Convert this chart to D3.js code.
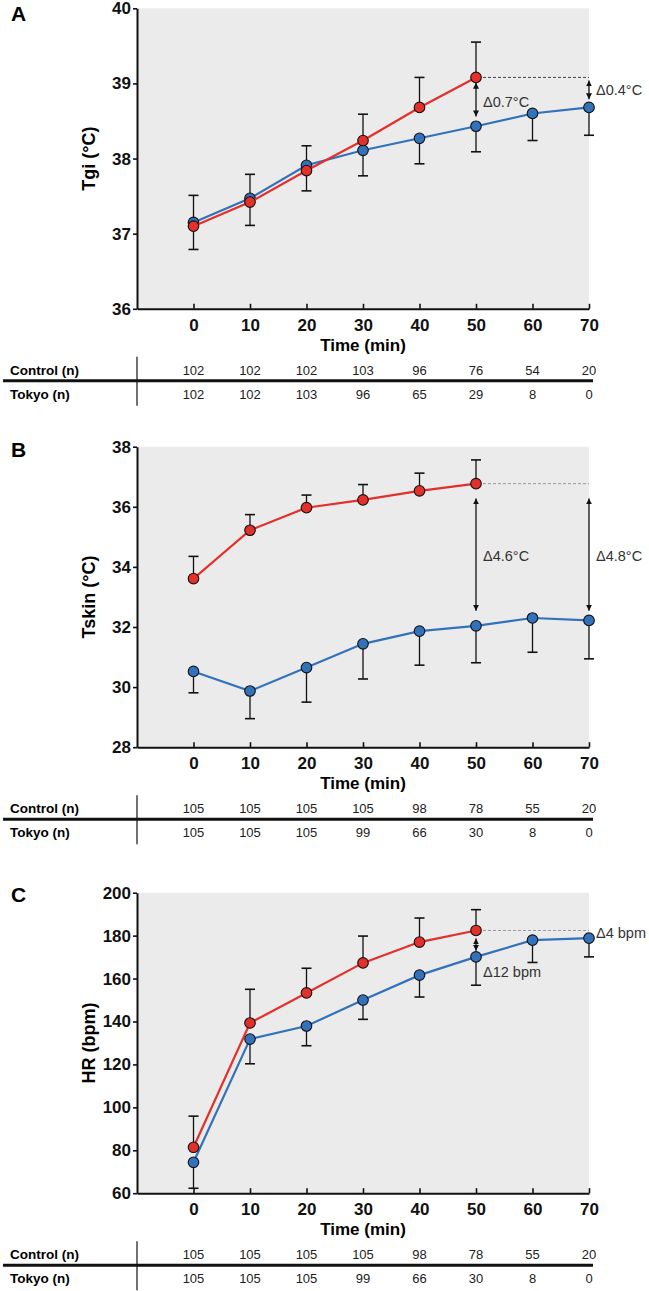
<!DOCTYPE html>
<html>
<head>
<meta charset="utf-8">
<script src="https://cdn.jsdelivr.net/npm/d3@7"></script>
<style>
  body { margin: 0; background: #fff; }
  svg text { font-family: "Liberation Sans", Arial, sans-serif; }
</style>
</head>
<body>
<div id="chart"></div>
<script>
// time points (min)
var times = [0, 10, 20, 30, 40, 50, 60, 70];

// Panel A - gastrointestinal temperature
var tgiControl = [37.15, 37.47, 37.91, 38.11, 38.27, 38.43, 38.60, 38.68];
var tgiControlSD = [0.36, 0.36, 0.34, 0.34, 0.34, 0.34, 0.36, 0.37];
var tgiTokyo = [37.10, 37.42, 37.84, 38.24, 38.68, 39.08];
var tgiTokyoSD = [0.41, 0.37, 0.33, 0.35, 0.40, 0.47];
var tgiControlN = [102, 102, 102, 103, 96, 76, 54, 20];
var tgiTokyoN = [102, 102, 103, 96, 65, 29, 8, 0];

// Panel B - skin temperature
var tskinControl = [30.52, 29.87, 30.65, 31.44, 31.86, 32.04, 32.30, 32.22];
var tskinControlSD = [0.71, 0.92, 1.15, 1.17, 1.13, 1.23, 1.14, 1.28];
var tskinTokyo = [33.61, 35.22, 35.97, 36.23, 36.53, 36.77];
var tskinTokyoSD = [0.74, 0.52, 0.42, 0.51, 0.59, 0.79];
var tskinControlN = [105, 105, 105, 105, 98, 78, 55, 20];
var tskinTokyoN = [105, 105, 105, 99, 66, 30, 8, 0];

// Panel C - heart rate
var hrControl = [74.4, 131.8, 137.9, 150.0, 161.6, 170.1, 177.9, 178.8];
var hrControlSD = [12.1, 11.5, 9.2, 9.0, 10.2, 13.2, 10.4, 8.7];
var hrTokyo = [81.4, 139.3, 153.3, 167.3, 177.0, 182.4];
var hrTokyoSD = [14.5, 15.7, 11.5, 12.5, 11.2, 9.7];
var hrControlN = [105, 105, 105, 105, 98, 78, 55, 20];
var hrTokyoN = [105, 105, 105, 99, 66, 30, 8, 0];

// difference annotations: [time, from, to]
var tgiArrows = [[50, 39.01, 38.56], [70, 39.04, 38.79]];
var tgiNotes = [[50, 38.69, "\u03940.7\u00b0C"], [70, 38.84, "\u03940.4\u00b0C"]];
var tskinArrows = [[50, 36.28, 32.54], [70, 36.28, 32.54]];
var tskinNotes = [[50, 34.21, "\u03944.6\u00b0C"], [70, 34.21, "\u03944.8\u00b0C"]];
var hrArrows = [[50, 178.7, 172.9]];
var hrNotes = [[50, 160.8, "\u039412 bpm"], [70, 178.7, "\u03944 bpm"]];

var panels = [
  { letter: "A", top: 8.3, label: "Tgi (\u00b0C)", domain: [36, 40], ticks: [36, 37, 38, 39, 40],
    ctrl: tgiControl, ctrlSD: tgiControlSD, tokyo: tgiTokyo, tokyoSD: tgiTokyoSD,
    ctrlN: tgiControlN, tokyoN: tgiTokyoN, arrows: tgiArrows, notes: tgiNotes, dash: "#444", letterDy: 12.7 },
  { letter: "B", top: 446.7, label: "Tskin (\u00b0C)", domain: [28, 38], ticks: [28, 30, 32, 34, 36, 38],
    ctrl: tskinControl, ctrlSD: tskinControlSD, tokyo: tskinTokyo, tokyoSD: tskinTokyoSD,
    ctrlN: tskinControlN, tokyoN: tskinTokyoN, arrows: tskinArrows, notes: tskinNotes, dash: "#999", letterDy: 10 },
  { letter: "C", top: 892.7, label: "HR (bpm)", domain: [60, 200], ticks: [60, 80, 100, 120, 140, 160, 180, 200],
    ctrl: hrControl, ctrlSD: hrControlSD, tokyo: hrTokyo, tokyoSD: hrTokyoSD,
    ctrlN: hrControlN, tokyoN: hrTokyoN, arrows: hrArrows, notes: hrNotes, dash: "#999", letterDy: 9 }
];

var svgWidth = 649;
var svgHeight = 1291;
var plotHeight = 300.5;
var red = "#e3302a";
var blue = "#3272bb";

var svg = d3.select("#chart")
  .append("svg")
  .attr("width", svgWidth)
  .attr("height", svgHeight);

// arrow head marker
svg.append("defs").append("marker")
  .attr("id", "head")
  .attr("viewBox", "0 0 10 10")
  .attr("refX", 10)
  .attr("refY", 5)
  .attr("markerWidth", 6)
  .attr("markerHeight", 6)
  .attr("markerUnits", "userSpaceOnUse")
  .attr("orient", "auto-start-reverse")
  .append("path")
  .attr("d", "M0,0 L10,5 L0,10 Z")
  .attr("fill", "#111");

var xScale = d3.scaleLinear().domain([-10, 70]).range([137, 589]);

panels.forEach(function(p) {
  var g = svg.append("g");
  var bottom = p.top + plotHeight;
  var yScale = d3.scaleLinear().domain(p.domain).range([bottom, p.top]);

  // grey plot background
  g.append("rect")
    .attr("x", xScale(-10))
    .attr("y", p.top)
    .attr("width", xScale(70) - xScale(-10))
    .attr("height", plotHeight)
    .attr("fill", "#ebebeb");

  // panel letter
  g.append("text")
    .attr("x", 11)
    .attr("y", p.top + p.letterDy)
    .attr("font-size", "21px")
    .attr("font-weight", "bold")
    .text(p.letter);

  // axes
  var leftAxis = d3.axisLeft(yScale).tickValues(p.ticks).tickFormat(d3.format("d"))
    .tickSize(4).tickSizeOuter(0).tickPadding(2);
  var bottomAxis = d3.axisBottom(xScale).tickValues(times).tickFormat(d3.format("d"))
    .tickSize(-5).tickSizeOuter(0).tickPadding(10);

  var yAxis = g.append("g")
    .attr("transform", `translate(${xScale(-10)},0)`)
    .call(leftAxis);
  var xAxis = g.append("g")
    .attr("transform", `translate(0,${bottom})`)
    .call(bottomAxis);

  [yAxis, xAxis].forEach(function(ax) {
    ax.select(".domain").attr("stroke", "#111").attr("stroke-width", 2);
    ax.selectAll(".tick line").attr("stroke", "#111").attr("stroke-width", 1.6);
    ax.selectAll("text")
      .attr("font-family", "'Liberation Sans', Arial, sans-serif")
      .attr("font-size", "17px")
      .attr("font-weight", "bold")
      .attr("fill", "#111");
  });

  // axis titles
  g.append("text")
    .attr("transform", `translate(95,${p.top + plotHeight / 2}) rotate(-90)`)
    .attr("text-anchor", "middle")
    .attr("font-size", "18px")
    .attr("font-weight", "bold")
    .text(p.label);

  g.append("text")
    .attr("x", (xScale(-10) + xScale(70)) / 2)
    .attr("y", bottom + 42)
    .attr("text-anchor", "middle")
    .attr("font-size", "17px")
    .attr("font-weight", "bold")
    .text("Time (min)");

  // dashed reference from last Tokyo point
  var lastT = times[p.tokyo.length - 1];
  var lastV = p.tokyo[p.tokyo.length - 1];
  g.append("line")
    .attr("x1", xScale(lastT) + 7)
    .attr("x2", xScale(70))
    .attr("y1", yScale(lastV))
    .attr("y2", yScale(lastV))
    .attr("stroke", p.dash)
    .attr("stroke-width", 1)
    .attr("stroke-dasharray", "3,2");

  // arrows
  p.arrows.forEach(function(a) {
    g.append("line")
      .attr("x1", xScale(a[0]))
      .attr("x2", xScale(a[0]))
      .attr("y1", yScale(a[1]))
      .attr("y2", yScale(a[2]))
      .attr("stroke", "#111")
      .attr("stroke-width", 1.3)
      .attr("marker-start", "url(#head)")
      .attr("marker-end", "url(#head)");
  });

  p.notes.forEach(function(n) {
    g.append("text")
      .attr("x", xScale(n[0]) + 7)
      .attr("y", yScale(n[1]))
      .attr("font-size", "14.5px")
      .attr("fill", "#333")
      .text(n[2]);
  });

  // series: control (blue) lower SD, tokyo (red) upper SD
  var series = [
    { vals: p.ctrl, sd: p.ctrlSD, sign: -1, color: blue },
    { vals: p.tokyo, sd: p.tokyoSD, sign: 1, color: red }
  ];

  series.forEach(function(s) {
    var pts = s.vals.map(function(v, i) { return { t: times[i], v: v, e: v + s.sign * s.sd[i] }; });

    var bars = g.append("g");
    pts.forEach(function(d) {
      bars.append("line")
        .attr("x1", xScale(d.t)).attr("x2", xScale(d.t))
        .attr("y1", yScale(d.v)).attr("y2", yScale(d.e))
        .attr("stroke", "#111").attr("stroke-width", 1.3);
      bars.append("line")
        .attr("x1", xScale(d.t) - 5).attr("x2", xScale(d.t) + 5)
        .attr("y1", yScale(d.e)).attr("y2", yScale(d.e))
        .attr("stroke", "#111").attr("stroke-width", 1.6);
    });
  });

  series.forEach(function(s) {
    var pts = s.vals.map(function(v, i) { return { t: times[i], v: v }; });
    var line = d3.line().x(d => xScale(d.t)).y(d => yScale(d.v));

    g.append("path")
      .datum(pts)
      .attr("d", line)
      .attr("fill", "none")
      .attr("stroke", s.color)
      .attr("stroke-width", 2.2);

    g.selectAll(null)
      .data(pts)
      .enter()
      .append("circle")
      .attr("cx", d => xScale(d.t))
      .attr("cy", d => yScale(d.v))
      .attr("r", 5.3)
      .attr("fill", s.color)
      .attr("stroke", "#111")
      .attr("stroke-width", 1.1);
  });

  // n table under each panel
  var table = g.append("g");
  table.append("line")
    .attr("x1", xScale(-10)).attr("x2", xScale(-10))
    .attr("y1", bottom + 48).attr("y2", bottom + 97)
    .attr("stroke", "#111").attr("stroke-width", 1.2);
  table.append("line")
    .attr("x1", 3).attr("x2", 593)
    .attr("y1", bottom + 72).attr("y2", bottom + 72)
    .attr("stroke", "#111").attr("stroke-width", 3);

  [["Control (n)", p.ctrlN, 66], ["Tokyo (n)", p.tokyoN, 90]].forEach(function(row) {
    table.append("text")
      .attr("x", 10)
      .attr("y", bottom + row[2])
      .attr("font-size", "13.5px")
      .attr("font-weight", "bold")
      .text(row[0]);
    table.selectAll(null)
      .data(row[1])
      .enter()
      .append("text")
      .attr("x", (d, i) => xScale(times[i]))
      .attr("y", bottom + row[2])
      .attr("text-anchor", "middle")
      .attr("font-size", "13px")
      .attr("fill", "#222")
      .text(d => d);
  });
});
</script>
</body>
</html>
